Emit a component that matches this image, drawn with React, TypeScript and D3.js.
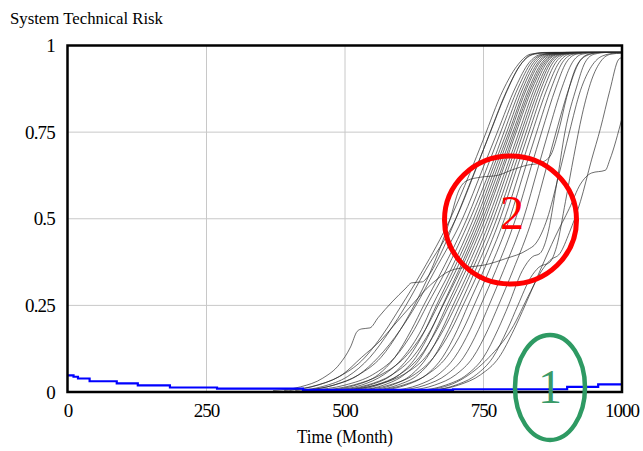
import React, { useEffect, useRef } from 'react';
import * as d3 from 'd3';

// time (month) ticks and risk ticks
const xTicks = [0, 250, 500, 750, 1000];
const yTicks = [0, 0.25, 0.5, 0.75, 1];
const yTickLabels = ['0', '0.25', '0.5', '0.75', '1'];

// run 1: baseline (blue, stepped)
const baseRun: [number, number][] = [
  [0, 0.048], [10, 0.044], [18, 0.039], [39, 0.031], [88, 0.025], [126, 0.019],
  [184, 0.013], [269, 0.01], [424, 0.006], [695, 0.008], [901, 0.015], [957, 0.022], [1000, 0.022],
];

// run 2: sensitivity runs (thin black)
const sensRuns: [number, number][][] = [
  [[370, 0.004], [420, 0.015], [460, 0.04], [490, 0.08], [510, 0.13], [522, 0.175], [530, 0.182], [545, 0.185], [560, 0.215], [585, 0.26], [610, 0.3], [620, 0.315], [640, 0.318], [648, 0.33], [670, 0.39], [700, 0.5], [730, 0.62], [760, 0.74], [790, 0.86], [815, 0.94], [835, 0.973], [860, 0.98], [1000, 0.98]],
  [[390, 0.004], [440, 0.015], [490, 0.045], [530, 0.09], [570, 0.17], [600, 0.245], [640, 0.35], [690, 0.5], [725, 0.63], [750, 0.73], [785, 0.87], [810, 0.94], [835, 0.975], [870, 0.98], [1000, 0.98]],
  [[410, 0.004], [460, 0.016], [505, 0.045], [545, 0.1], [580, 0.175], [610, 0.25], [645, 0.35], [700, 0.5], [738, 0.65], [762, 0.75], [792, 0.87], [817, 0.945], [842, 0.975], [880, 0.98], [1000, 0.98]],
  [[430, 0.005], [480, 0.02], [525, 0.05], [560, 0.1], [600, 0.18], [628, 0.25], [662, 0.35], [712, 0.5], [750, 0.65], [775, 0.75], [808, 0.88], [832, 0.95], [855, 0.975], [895, 0.98], [1000, 0.98]],
  [[470, 0.005], [520, 0.02], [560, 0.05], [590, 0.1], [620, 0.18], [642, 0.25], [675, 0.35], [720, 0.5], [757, 0.65], [781, 0.75], [813, 0.88], [836, 0.95], [860, 0.975], [900, 0.98], [1000, 0.98]],
  [[440, 0.005], [500, 0.02], [550, 0.05], [590, 0.1], [625, 0.18], [648, 0.25], [682, 0.35], [726, 0.5], [764, 0.65], [787, 0.75], [818, 0.88], [840, 0.95], [862, 0.975], [900, 0.98], [1000, 0.98]],
  [[480, 0.005], [530, 0.02], [570, 0.05], [605, 0.1], [638, 0.18], [658, 0.25], [690, 0.35], [732, 0.5], [768, 0.65], [792, 0.75], [822, 0.88], [844, 0.95], [866, 0.975], [905, 0.98], [1000, 0.98]],
  [[500, 0.005], [545, 0.02], [585, 0.05], [615, 0.1], [645, 0.18], [665, 0.25], [695, 0.35], [737, 0.5], [772, 0.65], [796, 0.75], [826, 0.88], [848, 0.95], [870, 0.975], [905, 0.98], [1000, 0.98]],
  [[460, 0.005], [515, 0.02], [565, 0.05], [608, 0.1], [645, 0.18], [668, 0.25], [700, 0.35], [741, 0.5], [776, 0.65], [799, 0.75], [829, 0.88], [851, 0.95], [873, 0.975], [910, 0.98], [1000, 0.98]],
  [[520, 0.005], [560, 0.02], [598, 0.05], [628, 0.1], [656, 0.18], [676, 0.25], [705, 0.35], [745, 0.5], [780, 0.65], [803, 0.75], [833, 0.88], [855, 0.95], [876, 0.975], [912, 0.98], [1000, 0.98]],
  [[490, 0.005], [540, 0.02], [585, 0.05], [622, 0.1], [655, 0.18], [677, 0.25], [708, 0.35], [749, 0.5], [784, 0.65], [806, 0.75], [836, 0.88], [858, 0.95], [880, 0.975], [915, 0.98], [1000, 0.98]],
  [[530, 0.005], [570, 0.02], [607, 0.05], [637, 0.1], [664, 0.18], [684, 0.25], [713, 0.35], [753, 0.5], [787, 0.65], [809, 0.75], [839, 0.88], [861, 0.95], [882, 0.975], [918, 0.98], [1000, 0.98]],
  [[510, 0.005], [555, 0.02], [598, 0.05], [634, 0.1], [666, 0.18], [688, 0.25], [718, 0.35], [758, 0.5], [792, 0.65], [814, 0.75], [843, 0.88], [864, 0.95], [885, 0.975], [920, 0.98], [1000, 0.98]],
  [[545, 0.005], [585, 0.02], [620, 0.05], [648, 0.1], [675, 0.18], [695, 0.25], [724, 0.35], [763, 0.5], [796, 0.65], [818, 0.75], [847, 0.88], [868, 0.95], [889, 0.975], [925, 0.98], [1000, 0.98]],
  [[500, 0.005], [555, 0.02], [605, 0.05], [645, 0.1], [678, 0.18], [700, 0.25], [729, 0.35], [768, 0.5], [801, 0.65], [822, 0.75], [851, 0.88], [871, 0.95], [892, 0.975], [928, 0.98], [1000, 0.98]],
  [[555, 0.005], [595, 0.02], [632, 0.05], [660, 0.1], [687, 0.18], [707, 0.25], [735, 0.35], [774, 0.5], [806, 0.65], [827, 0.75], [855, 0.88], [875, 0.95], [896, 0.975], [932, 0.98], [1000, 0.98]],
  [[530, 0.005], [580, 0.02], [625, 0.05], [660, 0.1], [692, 0.18], [713, 0.25], [742, 0.35], [780, 0.5], [811, 0.65], [832, 0.75], [860, 0.88], [880, 0.95], [900, 0.975], [935, 0.98], [1000, 0.98]],
  [[570, 0.005], [610, 0.02], [647, 0.05], [676, 0.1], [703, 0.18], [722, 0.25], [750, 0.35], [788, 0.5], [818, 0.65], [838, 0.75], [866, 0.88], [886, 0.95], [905, 0.975], [940, 0.98], [1000, 0.98]],
  [[560, 0.005], [605, 0.02], [648, 0.05], [683, 0.1], [713, 0.18], [733, 0.25], [760, 0.35], [797, 0.5], [826, 0.65], [846, 0.75], [873, 0.88], [892, 0.95], [912, 0.975], [945, 0.98], [1000, 0.98]],
  [[590, 0.005], [632, 0.02], [668, 0.05], [698, 0.1], [726, 0.18], [745, 0.25], [772, 0.35], [808, 0.5], [836, 0.65], [855, 0.75], [881, 0.88], [899, 0.95], [918, 0.975], [950, 0.98], [1000, 0.98]],
  [[600, 0.005], [645, 0.02], [683, 0.05], [714, 0.1], [741, 0.18], [760, 0.25], [786, 0.35], [822, 0.5], [849, 0.65], [867, 0.75], [892, 0.88], [910, 0.95], [928, 0.975], [958, 0.98], [1000, 0.98]],
  [[620, 0.005], [662, 0.02], [700, 0.05], [731, 0.1], [758, 0.18], [777, 0.25], [803, 0.35], [838, 0.5], [864, 0.65], [881, 0.75], [905, 0.88], [922, 0.95], [940, 0.975], [968, 0.98], [1000, 0.98]],
  [[640, 0.005], [682, 0.02], [720, 0.05], [750, 0.1], [776, 0.18], [795, 0.25], [820, 0.35], [838, 0.39], [852, 0.4], [865, 0.45], [882, 0.6], [897, 0.75], [918, 0.88], [933, 0.95], [950, 0.975], [975, 0.98], [1000, 0.98]],
  [[660, 0.005], [700, 0.02], [737, 0.05], [767, 0.1], [793, 0.18], [812, 0.25], [835, 0.33], [850, 0.36], [870, 0.375], [882, 0.42], [898, 0.55], [913, 0.68], [928, 0.8], [945, 0.9], [962, 0.955], [980, 0.975], [1000, 0.978]],
  [[660, 0.005], [705, 0.02], [745, 0.05], [778, 0.1], [805, 0.18], [825, 0.25], [852, 0.35], [880, 0.45], [905, 0.53], [925, 0.6], [945, 0.632], [970, 0.64], [978, 0.67], [1000, 0.79]],
  [[650, 0.005], [709, 0.035], [760, 0.1], [800, 0.18], [835, 0.29], [855, 0.35], [870, 0.38], [888, 0.4], [905, 0.46], [925, 0.55], [945, 0.67], [961, 0.76], [978, 0.87], [994, 0.96], [1000, 0.965]],
  // slow riser with the long 0.35-0.4 shelf
  [[400, 0.005], [450, 0.02], [495, 0.05], [530, 0.1], [565, 0.15], [587, 0.19], [620, 0.25], [655, 0.31], [690, 0.35], [720, 0.36], [750, 0.366], [790, 0.385], [829, 0.41], [845, 0.43], [865, 0.5], [885, 0.62], [905, 0.75], [925, 0.87], [945, 0.94], [965, 0.97], [990, 0.978], [1000, 0.978]],
  // riser that stalls near 0.62-0.66
  [[430, 0.005], [480, 0.02], [525, 0.05], [565, 0.1], [600, 0.18], [625, 0.25], [655, 0.35], [690, 0.5], [705, 0.58], [720, 0.61], [745, 0.62], [775, 0.625], [800, 0.64], [830, 0.655], [850, 0.66], [870, 0.68], [885, 0.75], [900, 0.85], [915, 0.93], [935, 0.97], [960, 0.98], [1000, 0.98]],
];

const W = 643;
const H = 451;

export default function App() {
  const svgRef = useRef<SVGSVGElement | null>(null);

  useEffect(() => {
    const svg = d3.select(svgRef.current)
      .attr('width', W)
      .attr('height', H)
      .attr('viewBox', [0, 0, W, H]);
    svg.selectAll('*').remove();

    const x = d3.scaleLinear().domain([0, 1000]).range([68, 622]);
    const y = d3.scaleLinear().domain([0, 1]).range([392, 45.5]);
    const font = '"Liberation Serif", "Times New Roman", serif';

    svg.append('rect').attr('width', W).attr('height', H).attr('fill', '#fff');

    // grid
    svg.append('g')
      .selectAll('line')
      .data(xTicks.slice(1, -1))
      .join('line')
      .attr('x1', d => x(d)).attr('x2', d => x(d))
      .attr('y1', y(0)).attr('y2', y(1))
      .attr('stroke', '#c8c8c8').attr('stroke-width', 1);
    svg.append('g')
      .selectAll('line')
      .data(yTicks.slice(1, -1))
      .join('line')
      .attr('x1', x(0)).attr('x2', x(1000))
      .attr('y1', d => y(d)).attr('y2', d => y(d))
      .attr('stroke', '#c8c8c8').attr('stroke-width', 1);

    // sensitivity runs
    const line = d3.line<[number, number]>()
      .x(d => x(d[0]))
      .y(d => y(d[1]))
      .curve(d3.curveMonotoneX);

    svg.append('g')
      .selectAll('path')
      .data(sensRuns)
      .join('path')
      .attr('fill', 'none')
      .attr('stroke', '#262626')
      .attr('stroke-width', 0.8)
      .attr('stroke-opacity', 0.85)
      .attr('d', d => line(d));

    // baseline run
    const step = d3.line<[number, number]>()
      .x(d => x(d[0]))
      .y(d => y(d[1]))
      .curve(d3.curveStepAfter);
    svg.append('path')
      .datum(baseRun)
      .attr('fill', 'none')
      .attr('stroke', '#0000ff')
      .attr('stroke-width', 2.2)
      .attr('d', step);

    // frame
    svg.append('rect')
      .attr('x', x(0) - 0.5).attr('y', y(1))
      .attr('width', x(1000) - x(0) + 0.5).attr('height', y(0) - y(1))
      .attr('fill', 'none').attr('stroke', '#000').attr('stroke-width', 2.5);

    // tick labels
    svg.append('g')
      .selectAll('text')
      .data(yTicks)
      .join('text')
      .attr('x', 55)
      .attr('y', d => y(d) + 6.5)
      .attr('text-anchor', 'end')
      .attr('font-family', font)
      .attr('font-size', 19)
      .attr('letter-spacing', -0.8)
      .text((d, i) => yTickLabels[i]);

    svg.append('g')
      .selectAll('text')
      .data(xTicks)
      .join('text')
      .attr('x', d => x(d))
      .attr('y', 417)
      .attr('text-anchor', 'middle')
      .attr('font-family', font)
      .attr('font-size', 19)
      .attr('letter-spacing', -1)
      .text(d => String(d));

    svg.append('text')
      .attr('x', 10).attr('y', 24)
      .attr('font-family', font)
      .attr('font-size', 17)
      .attr('textLength', 153)
      .attr('lengthAdjust', 'spacingAndGlyphs')
      .text('System Technical Risk');

    svg.append('text')
      .attr('x', 297).attr('y', 443)
      .attr('font-family', font)
      .attr('font-size', 18)
      .attr('textLength', 96)
      .attr('lengthAdjust', 'spacingAndGlyphs')
      .text('Time (Month)');

    // annotations
    svg.append('ellipse')
      .attr('cx', 510.5).attr('cy', 220).attr('rx', 66).attr('ry', 64)
      .attr('fill', 'none').attr('stroke', '#ff0000').attr('stroke-width', 5);
    svg.append('text')
      .attr('x', 512).attr('y', 229)
      .attr('text-anchor', 'middle')
      .attr('font-family', font)
      .attr('font-size', 48)
      .attr('fill', '#ff0000')
      .text('2');

    svg.append('ellipse')
      .attr('cx', 550).attr('cy', 387.5).attr('rx', 35).attr('ry', 52.5)
      .attr('fill', 'none').attr('stroke', '#2e9a63').attr('stroke-width', 4.5);
    svg.append('text')
      .attr('x', 550).attr('y', 403)
      .attr('text-anchor', 'middle')
      .attr('font-family', font)
      .attr('font-size', 48)
      .attr('fill', '#3a9a68')
      .text('1');
  }, []);

  return (
    <svg ref={svgRef} style={{ position: 'absolute', left: 0, top: 0, display: 'block' }}></svg>
  );
}
